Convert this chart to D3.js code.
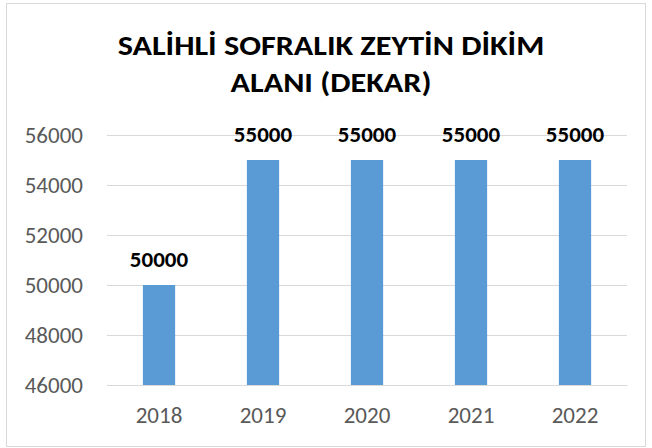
<!DOCTYPE html>
<html><head><meta charset="utf-8">
<script src="https://cdn.jsdelivr.net/npm/d3@7/dist/d3.min.js"></script>
<style>body{margin:0;background:#fff}svg{display:block}</style>
</head><body>
<script>
const years = ["2018","2019","2020","2021","2022"];
const values = [50000,55000,55000,55000,55000];
const yTicks = [46000,48000,50000,52000,54000,56000];
const titleLines = ["SALİHLİ SOFRALIK ZEYTİN DİKİM","ALANI (DEKAR)"];

(function(){
const W=652,H=448;
const svg=d3.select("body").append("svg").attr("width",W).attr("height",H);
svg.append("rect").attr("x",6.5).attr("y",3.5).attr("width",639).attr("height",443)
  .attr("fill","#fff").attr("stroke","#d9d9d9").attr("stroke-width",1);

const pL=107,pR=627,pT=135,pB=385;
const x=d3.scaleBand().domain(years).range([pL,pR]).paddingInner(0.69).paddingOuter(0.345);
const y=d3.scaleLinear().domain([46000,56000]).range([pB,pT]);

const font="Carlito, Calibri, 'Open Sans', sans-serif";

const ga=svg.append("g").attr("transform",`translate(${pL},0)`)
  .call(d3.axisLeft(y).tickValues(yTicks).tickSize(-(pR-pL)).tickPadding(24).tickFormat(d3.format("d")));
ga.select(".domain").remove();
ga.selectAll(".tick line").attr("stroke","#d9d9d9").attr("stroke-width",1);
ga.selectAll(".tick text").attr("fill","#595959").style("font-family",font).style("font-size","23px");

svg.selectAll("rect.bar").data(years).join("rect").attr("class","bar")
  .attr("x",d=>x(d)).attr("width",x.bandwidth())
  .attr("y",(d,i)=>y(values[i])).attr("height",(d,i)=>y(46000)-y(values[i]))
  .attr("fill","#5b9bd5");

const gx=svg.append("g").attr("transform",`translate(0,${pB})`)
  .call(d3.axisBottom(x).tickSize(0).tickPadding(22));
gx.select(".domain").attr("stroke","#d9d9d9");
gx.selectAll(".tick text").attr("fill","#595959").style("font-family",font).style("font-size","23px");

svg.selectAll("text.lbl").data(years).join("text").attr("class","lbl")
  .attr("x",d=>x(d)+x.bandwidth()/2).attr("y",(d,i)=>y(values[i])-18)
  .attr("text-anchor","middle").style("font-family",font).style("font-size","23px")
  .style("font-weight","bold").attr("fill","#000").text((d,i)=>values[i]);

const cx=331;
svg.append("g").attr("transform",`translate(${cx},0) scale(1.11,1)`)
  .selectAll("text.title").data(titleLines).join("text").attr("class","title")
  .attr("x",0).attr("y",(d,i)=>55+i*37.5).attr("text-anchor","middle")
  .style("font-family",font).style("font-size","29px").style("font-weight","bold")
  .attr("fill","#000").text(d=>d);
})();
</script>
</body></html>
